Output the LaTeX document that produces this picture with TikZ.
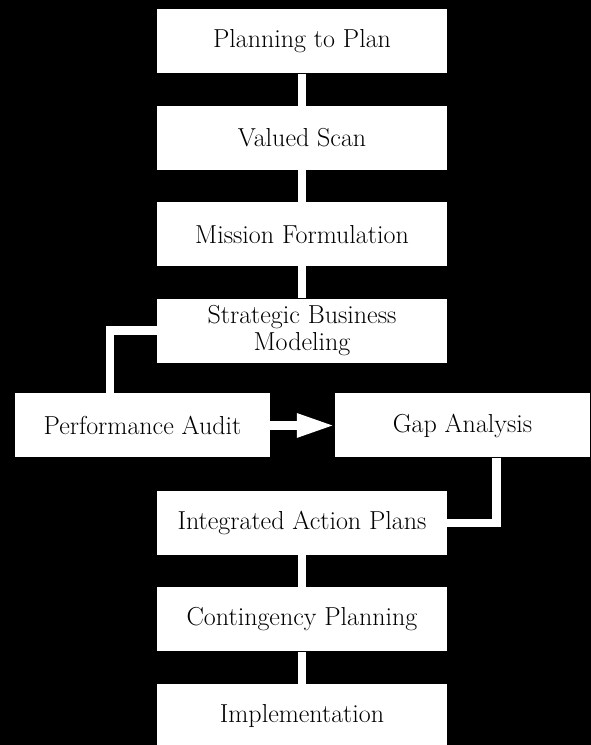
\documentclass[tikz,border=0pt]{standalone}
\usepackage{tikz}
\usetikzlibrary{arrows.meta,backgrounds,positioning}

\tikzset{
  stepbox/.style={fill=white, text=black, minimum width=290pt, minimum height=64pt,
    inner sep=0pt, align=center, font=\fontsize{26}{27}\selectfont},
  sidebox/.style={stepbox, minimum width=255pt},
  link/.style={draw=white, line width=8.5pt},
}

\begin{document}
\begin{tikzpicture}
\useasboundingbox (0,0) rectangle (591pt,745pt);
\fill[black] (0,0) rectangle (591pt,745pt);

% main column
\node[stepbox] (plan) at (302pt,703.5pt) {Planning to Plan};
\node[stepbox, below=32pt of plan] (scan) {Valued Scan};
\node[stepbox, below=32pt of scan] (mission) {Mission Formulation};
\node[stepbox, below=32pt of mission] (business) {Strategic Business\\Modeling};
\node[sidebox] (audit) at (142.5pt,319.5pt) {Performance Audit};
\node[sidebox] (gap) at (462.5pt,319.5pt) {Gap Analysis};
\node[stepbox, below=128pt of business] (actions) {Integrated Action Plans};
\node[stepbox, below=32pt of actions] (contingency) {Contingency Planning};
\node[stepbox, below=32pt of contingency] (implement) {Implementation};

\draw[link] (plan) -- (scan);
\draw[link] (scan) -- (mission);
\draw[link] (mission) -- (business);
\draw[link] (business.west) -| ([xshift=-32.5pt]audit.north);
\draw[link, -{Triangle[length=38pt,width=22pt]}] (audit) -- (gap);
\draw[link] ([xshift=34pt]gap.south) |- (actions.east);
\draw[link] (actions) -- (contingency);
\draw[link] (contingency) -- (implement);
\end{tikzpicture}
\end{document}
